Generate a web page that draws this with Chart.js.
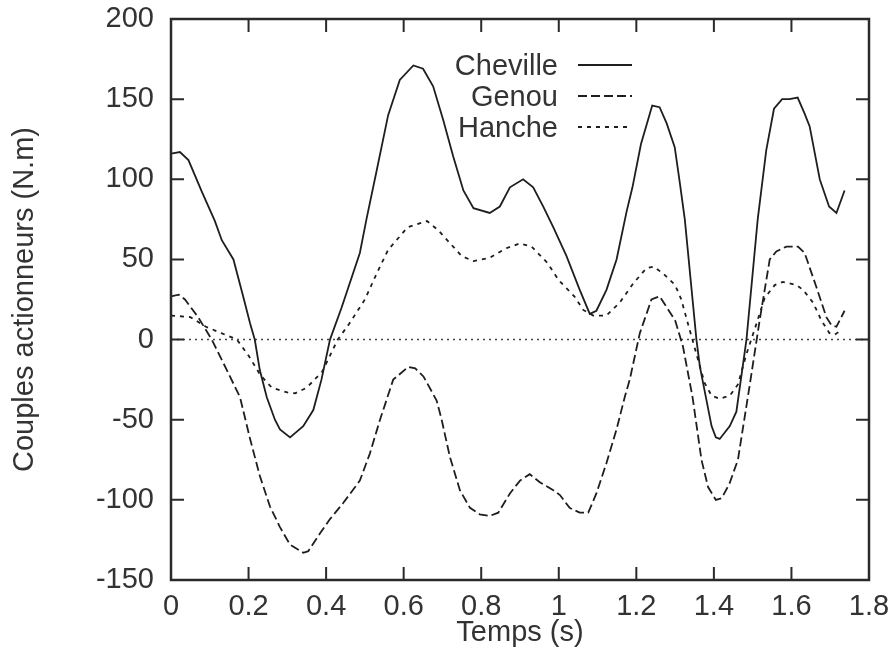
<!DOCTYPE html>
<html>
<head>
<meta charset="utf-8">
<script src="https://cdn.jsdelivr.net/npm/chart.js@4/dist/chart.umd.min.js"></script>
<style>
  body { margin: 0; background: #fff; }
  #wrap { width: 894px; height: 659px; }
</style>
</head>
<body>
<div id="wrap"><canvas id="grafica" width="894" height="659"></canvas></div>
<script>
// Couples articulaires (temps en s, couple en N.m)
const chevilleT = [0, 0.023, 0.045, 0.08, 0.113, 0.131, 0.161, 0.186, 0.204, 0.216, 0.229, 0.247, 0.268, 0.281, 0.307, 0.341, 0.367, 0.388, 0.41, 0.44, 0.487, 0.504, 0.53, 0.56, 0.59, 0.625, 0.65, 0.676, 0.702, 0.728, 0.754, 0.78, 0.822, 0.848, 0.874, 0.908, 0.934, 0.96, 0.986, 1.02, 1.054, 1.08, 1.097, 1.123, 1.149, 1.175, 1.19, 1.212, 1.241, 1.26, 1.278, 1.299, 1.312, 1.325, 1.355, 1.364, 1.394, 1.405, 1.415, 1.441, 1.458, 1.484, 1.513, 1.535, 1.555, 1.576, 1.595, 1.616, 1.634, 1.647, 1.673, 1.697, 1.716, 1.737];
const chevilleV = [116, 117, 112, 92, 74, 62, 50, 27, 10, 0, -19, -36, -50, -56, -61, -54, -44, -25, 0, 20, 54, 75, 105, 140, 162, 171, 169, 158, 137, 114, 93, 82, 79, 83, 95, 100, 95, 83, 70, 52, 31, 16, 18, 31, 50, 80, 95, 122, 146, 145, 135, 120, 98, 75, 0, -17, -54, -61, -62, -54, -45, 0, 75, 118, 144, 150, 150, 151, 141, 133, 100, 83, 79, 93];

const genouT = [0, 0.02, 0.036, 0.07, 0.105, 0.144, 0.178, 0.204, 0.229, 0.255, 0.281, 0.307, 0.341, 0.354, 0.384, 0.41, 0.444, 0.487, 0.513, 0.539, 0.573, 0.612, 0.63, 0.651, 0.685, 0.698, 0.719, 0.745, 0.771, 0.796, 0.822, 0.844, 0.874, 0.9, 0.925, 0.951, 0.986, 1.003, 1.028, 1.054, 1.076, 1.097, 1.123, 1.149, 1.17, 1.183, 1.209, 1.239, 1.26, 1.3, 1.32, 1.345, 1.368, 1.385, 1.405, 1.42, 1.44, 1.462, 1.492, 1.518, 1.544, 1.561, 1.587, 1.617, 1.634, 1.664, 1.69, 1.703, 1.716, 1.737];
const genouV = [27, 28, 25, 14, 0, -19, -36, -62, -85, -104, -117, -128, -133, -132, -121, -112, -102, -88, -71, -50, -25, -17, -18, -23, -38, -50, -73, -94, -105, -109, -110, -108, -96, -88, -84, -89, -94, -97, -105, -108, -108, -96, -77, -56, -36, -25, 4, 25, 27, 12, -4, -36, -75, -92, -100, -99, -90, -75, -29, 12, 50, 55, 58, 58, 54, 33, 14, 9, 8, 18];

const hancheT = [0, 0.05, 0.09, 0.13, 0.17, 0.2, 0.23, 0.26, 0.3, 0.32, 0.35, 0.39, 0.43, 0.46, 0.5, 0.53, 0.56, 0.61, 0.66, 0.69, 0.72, 0.75, 0.78, 0.822, 0.865, 0.9, 0.93, 0.97, 1.0, 1.04, 1.063, 1.089, 1.123, 1.157, 1.192, 1.226, 1.245, 1.27, 1.3, 1.316, 1.333, 1.355, 1.376, 1.394, 1.415, 1.441, 1.462, 1.484, 1.51, 1.531, 1.557, 1.578, 1.613, 1.63, 1.656, 1.677, 1.698, 1.711, 1.729];
const hancheV = [15, 14, 8, 4, 0, -10, -22, -30, -33, -33.5, -30, -20, 0, 10, 25, 41, 56, 70, 74, 68, 60, 52, 49, 51, 57, 60, 58, 48, 37, 27, 18.5, 15, 15, 23, 35, 44.5, 45.5, 41, 34, 25, 10, -9, -27, -35, -37, -35, -28, -9, 10, 26, 34, 36, 34, 31, 23, 12, 4, 3, 6];

const zeroT = [0, 1.8];
const zeroV = [0, 0];

const xTicks = [0, 0.2, 0.4, 0.6, 0.8, 1, 1.2, 1.4, 1.6, 1.8];
const yTicks = [-150, -100, -50, 0, 50, 100, 150, 200];

const police = '"Liberation Sans", Arial, Helvetica, sans-serif';
const couleurTexte = '#333';
const couleurTrait = '#1e1e1e';

function points(t, v) {
    return t.map((x, i) => ({ x: x, y: v[i] }));
}

// Cadre + graduations vers l'intérieur (style gnuplot) et légende dans le graphe
const cadrePlugin = {
    id: 'cadre',
    afterDraw(chart) {
        const ctx = chart.ctx;
        const a = chart.chartArea;
        const sx = chart.scales.x, sy = chart.scales.y;
        const lg = 13;
        ctx.save();
        ctx.strokeStyle = '#2a2a2a';
        ctx.lineWidth = 2.5;
        ctx.strokeRect(a.left, a.top, a.right - a.left, a.bottom - a.top);
        ctx.lineWidth = 2;
        ctx.beginPath();
        xTicks.slice(1, -1).forEach(v => {
            const px = sx.getPixelForValue(v);
            ctx.moveTo(px, a.bottom); ctx.lineTo(px, a.bottom - lg);
            ctx.moveTo(px, a.top); ctx.lineTo(px, a.top + lg);
        });
        yTicks.slice(1, -1).forEach(v => {
            const py = sy.getPixelForValue(v);
            ctx.moveTo(a.left, py); ctx.lineTo(a.left + lg, py);
            ctx.moveTo(a.right, py); ctx.lineTo(a.right - lg, py);
        });
        ctx.stroke();

        // legende
        ctx.font = '29px ' + police;
        ctx.textAlign = 'right';
        ctx.textBaseline = 'middle';
        chart.data.datasets.forEach((ds, i) => {
            if (!ds.label) return;
            const y = 65 + i * 31;
            ctx.fillStyle = couleurTexte;
            ctx.fillText(ds.label, 558, y + 2);
            ctx.strokeStyle = ds.borderColor;
            ctx.lineWidth = ds.borderWidth;
            ctx.setLineDash(ds.borderDash || []);
            ctx.beginPath();
            ctx.moveTo(578, y);
            ctx.lineTo(632, y);
            ctx.stroke();
        });
        ctx.restore();
    }
};

new Chart(document.getElementById('grafica').getContext('2d'), {
    type: 'line',
    data: {
        datasets: [
            { label: 'Cheville', data: points(chevilleT, chevilleV), borderColor: couleurTrait, borderWidth: 1.8, borderDash: [] },
            { label: 'Genou', data: points(genouT, genouV), borderColor: couleurTrait, borderWidth: 1.8, borderDash: [9, 4] },
            { label: 'Hanche', data: points(hancheT, hancheV), borderColor: couleurTrait, borderWidth: 1.8, borderDash: [4, 5] },
            { label: '', data: points(zeroT, zeroV), borderColor: '#444', borderWidth: 1.5, borderDash: [2, 4] }
        ]
    },
    options: {
        responsive: false,
        animation: false,
        devicePixelRatio: 1,
        layout: { padding: { left: 0, top: 19, right: 25, bottom: 0 } },
        elements: {
            point: { radius: 0 },
            line: { tension: 0, fill: false }
        },
        plugins: {
            legend: { display: false },
            tooltip: { enabled: false }
        },
        scales: {
            x: {
                type: 'linear',
                min: 0,
                max: 1.8,
                afterBuildTicks: s => { s.ticks = xTicks.map(v => ({ value: v })); },
                afterFit: s => {
                    s.height = 79;
                    s.paddingLeft = 0;
                    s.paddingRight = 0;
                },
                grid: { display: false, drawTicks: false, tickLength: 0 },
                border: { display: false },
                ticks: {
                    color: couleurTexte,
                    font: { family: police, size: 29 },
                    padding: 10,
                    maxRotation: 0,
                    autoSkip: false,
                    callback: v => String(v)
                },
                title: {
                    display: true,
                    text: 'Temps (s)',
                    color: couleurTexte,
                    font: { family: police, size: 29 },
                    padding: { top: 0, bottom: 9 }
                }
            },
            y: {
                min: -150,
                max: 200,
                afterBuildTicks: s => { s.ticks = yTicks.map(v => ({ value: v })); },
                afterFit: s => {
                    s.width = 171;
                    s.paddingTop = 0;
                    s.paddingBottom = 0;
                },
                grid: { display: false, drawTicks: false, tickLength: 0 },
                border: { display: false },
                ticks: {
                    color: couleurTexte,
                    font: { family: police, size: 29 },
                    padding: 17,
                    autoSkip: false,
                    callback: v => String(v)
                },
                title: {
                    display: true,
                    text: 'Couples actionneurs (N.m)',
                    color: couleurTexte,
                    font: { family: police, size: 29 },
                    padding: { top: 8, bottom: 0 }
                }
            }
        }
    },
    plugins: [cadrePlugin]
});
</script>
</body>
</html>
